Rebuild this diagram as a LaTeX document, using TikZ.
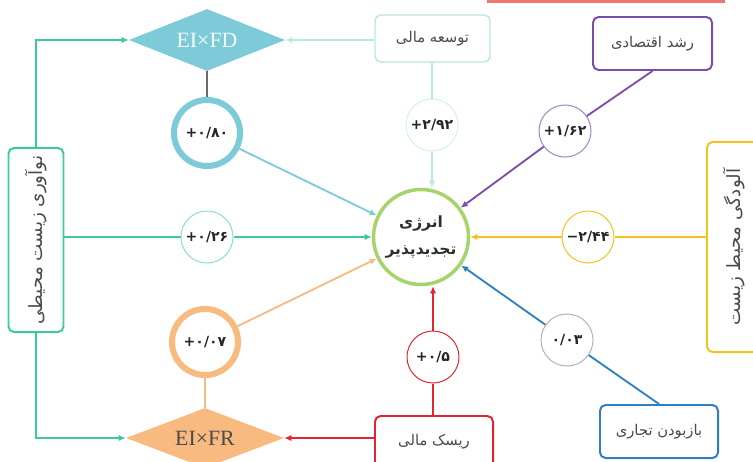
\documentclass[tikz,border=0pt]{standalone}
\usepackage{fontspec}
\setmainfont{Liberation Serif}
\newfontfamily\arabicfont[Script=Arabic]{DejaVu Sans}
\newfontfamily\numfont{DejaVu Sans}
\TeXXeTstate=1
\usetikzlibrary{arrows.meta, shapes.geometric}
\definecolor{cTeal}{HTML}{7DCBD8}
\definecolor{cMint}{HTML}{B8E9DB}
\definecolor{cMintL}{HTML}{D4F1E9}
\definecolor{cPurple}{HTML}{7B4DA8}
\definecolor{cPurpleL}{HTML}{A083C6}
\definecolor{cGreen}{HTML}{3CC8A0}
\definecolor{cGreenL}{HTML}{8EDDC6}
\definecolor{cYellow}{HTML}{F4C21F}
\definecolor{cRed}{HTML}{E2252C}
\definecolor{cRedL}{HTML}{F27474}
\definecolor{cBlue}{HTML}{2D7FC2}
\definecolor{cOrange}{HTML}{F8BA7E}
\definecolor{cGreenC}{HTML}{A7D36C}
\definecolor{cGray}{HTML}{6A6A6A}
\definecolor{cText}{HTML}{4A4A4A}
\definecolor{cDark}{HTML}{263326}
\newcommand{\fatext}[1]{\beginR #1\endR}
\newcommand{\coef}[2]{\beginL\mbox{#1}\mbox{#2}\endL}

\begin{document}
\begin{tikzpicture}[x=0.025cm, y=-0.025cm,
  rbox/.style={rectangle, rounded corners=4pt, line width=1.4pt, fill=white, text=cText,
    font=\arabicfont\fontsize{10.5}{12}\selectfont, inner sep=2pt},
  vbox/.style={rbox, font=\arabicfont\fontsize{13}{15}\selectfont},
  val/.style={circle, draw, fill=white, line width=0.7pt, minimum size=1.3cm, inner sep=0pt,
    font=\numfont\bfseries\fontsize{10}{12}\selectfont, text=black!85},
  bigval/.style={val, line width=4.3pt, minimum size=1.65cm},
  mult/.style={diamond, aspect=2.5, inner sep=0pt, font=\fontsize{15.5}{18}\selectfont},
  link/.style={line width=1.3pt},
  arr/.style={link, -{Latex[length=5pt, width=4.5pt]}}
]
\useasboundingbox (0,0) rectangle (753,461);
\fill[cRedL] (487,0) rectangle (725,2.5);
% --- centre ---
\node[circle, draw=cGreenC, fill=white, line width=2.5pt, minimum size=2.05cm, align=center,
  font=\arabicfont\bfseries\fontsize{11}{19}\selectfont, text=cDark] (energy) at (421,237)
  {\fatext{انرژی}\\\fatext{تجدیدپذیر}};
% --- products ---
\node[mult, fill=cTeal, text=white!92!cTeal, minimum width=3.9cm, minimum height=1.55cm] (efd) at (207,40) {EI×FD};
\node[mult, fill=cOrange, text=cText, minimum width=3.95cm, minimum height=1.5cm] (efr) at (205,438) {EI×FR};
% --- variables ---
\node[rbox, draw=cMint, line width=1pt, minimum width=2.875cm, minimum height=1.175cm] (tose) at (432.5,38.5) {\fatext{توسعه مالی}};
\node[rbox, draw=cPurple, minimum width=2.975cm, minimum height=1.325cm] (rashd) at (652.5,43.5) {\fatext{رشد اقتصادی}};
\node[vbox, draw=cGreen, minimum width=1.375cm, minimum height=4.6cm] (nov) at (36,240) {\rotatebox{90}{\fatext{نوآوری زیست محیطی}}};
\node[vbox, draw=cYellow, minimum width=1.375cm, minimum height=5.25cm] (alud) at (734.5,247) {\rotatebox{90}{\fatext{آلودگی محیط زیست}}};
\node[rbox, draw=cRed, minimum width=2.95cm, minimum height=1.3cm] (risk) at (434,442) {\fatext{ریسک مالی}};
\node[rbox, draw=cBlue, minimum width=2.95cm, minimum height=1.325cm] (baz) at (659,431.5) {\fatext{بازبودن تجاری}};
% --- coefficients ---
\node[bigval, draw=cTeal] (c080) at (207,133) {\coef{+}{۰/۸۰}};
\node[val, draw=cMintL] (c292) at (432,125) {\coef{+}{۲/۹۲}};
\node[val, draw=cPurpleL] (c162) at (565,131) {\coef{+}{۱/۶۲}};
\node[val, draw=cGreenL] (c026) at (207,237) {\coef{+}{۰/۲۶}};
\node[val, draw=cYellow] (c244) at (588,237) {\coef{−}{۲/۴۴}};
\node[val, draw=gray!60] (c003) at (567,340) {\coef{}{۰/۰۳}};
\node[val, draw=cRed] (c05) at (433,357) {\coef{+}{۰/۵}};
\node[bigval, draw=cOrange] (c007) at (205,342) {\coef{+}{۰/۰۷}};
% --- links ---
\draw[arr, cGreen] (nov.north) |- (efd.west);
\draw[arr, cGreen] (nov.south) |- (efr.west);
\draw[link, cGreen] (nov.east |- c026) -- (c026);
\draw[arr, cGreen] (c026) -- (energy);
\draw[link, cGray] (efd) -- (c080);
\draw[arr, cTeal] (c080) -- (energy);
\draw[arr, cMint] (efd -| tose.west) -- (efd.east);
\draw[link, cMint] (c292 |- tose.south) -- (c292);
\draw[arr, cMint] (c292) -- (c292 |- energy.north);
\draw[link, cPurple] (rashd.south) -- (c162);
\draw[arr, cPurple] (c162) -- (energy);
\draw[link, cYellow] (c244 -| alud.west) -- (c244);
\draw[arr, cYellow] (c244) -- (energy);
\draw[link, cBlue] (baz.north) -- (c003);
\draw[arr, cBlue] (c003) -- (energy);
\draw[link, cRed] (c05 |- risk.north) -- (c05);
\draw[arr, cRed] (c05) -- (c05 |- energy.south);
\draw[arr, cRed] (efr -| risk.west) -- (efr.east);
\draw[link, cOrange] (efr) -- (c007);
\draw[arr, cOrange] (c007) -- (energy);
\end{tikzpicture}
\end{document}
